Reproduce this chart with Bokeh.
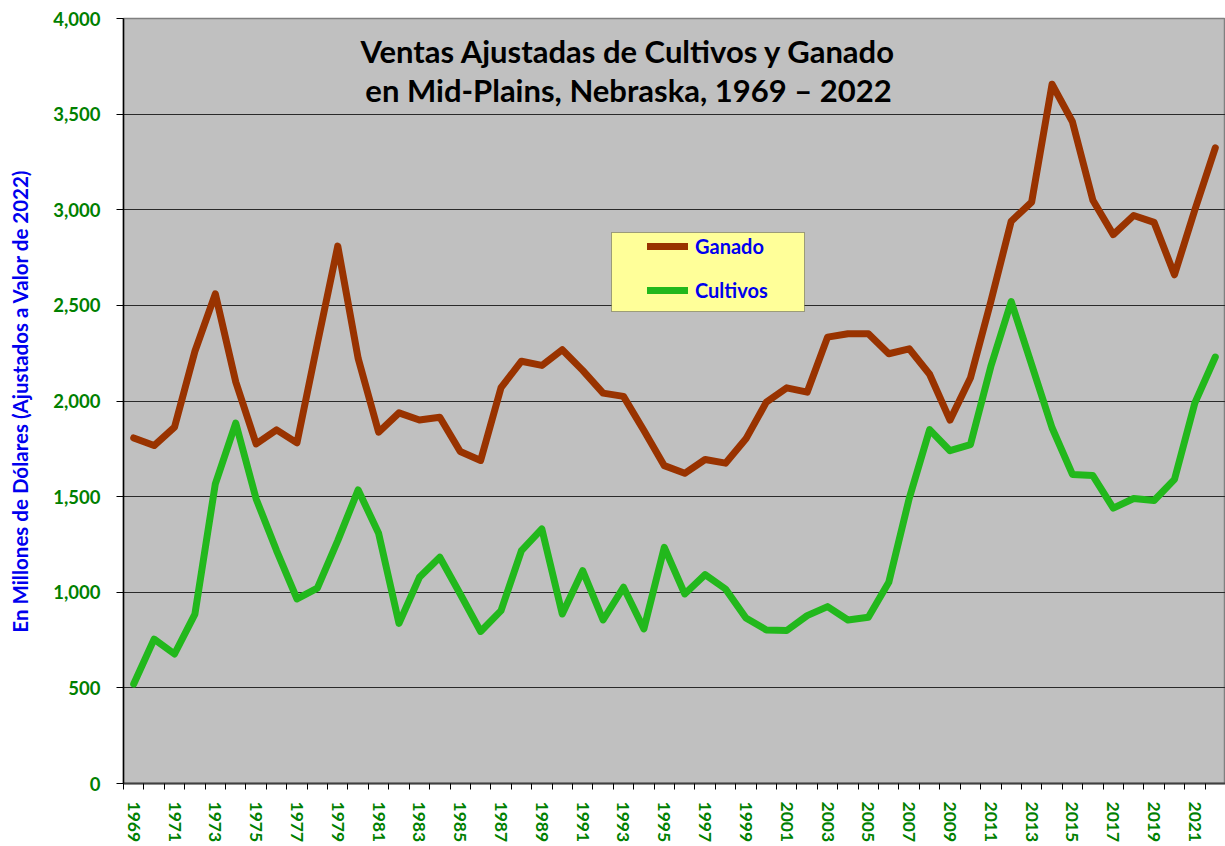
from bokeh.plotting import figure
from bokeh.models import (Legend, LegendItem, BoxAnnotation, Label, FixedTicker,
                          NumeralTickFormatter, Range1d)
from bokeh.embed import file_html
from bokeh.resources import INLINE

# ---- data ----
years = list(range(1969, 2023))
ganado = [1807, 1767, 1863, 2260, 2560, 2100, 1776, 1849, 1781, 2300,
          2810, 2222, 1837, 1938, 1901, 1915, 1736, 1689, 2070, 2208,
          2186, 2268, 2160, 2041, 2024, 1846, 1662, 1622, 1694, 1675,
          1802, 1994, 2069, 2046, 2334, 2352, 2352, 2247, 2273, 2140,
          1900, 2120, 2520, 2940, 3040, 3656, 3460, 3050, 2870, 2970,
          2934, 2660, 3000, 3324]
cultivos = [520, 755, 677, 886, 1567, 1884, 1488, 1218, 965, 1022,
            1270, 1535, 1308, 837, 1078, 1183, 991, 795, 904, 1218,
            1331, 886, 1113, 855, 1026, 808, 1235, 991, 1092, 1017,
            865, 803, 800, 878, 925, 855, 869, 1052, 1490, 1850,
            1740, 1772, 2180, 2520, 2190, 1860, 1616, 1610, 1440, 1490,
            1480, 1590, 1990, 2230]
x_tick_years = years[::2]
y_ticks = [0, 500, 1000, 1500, 2000, 2500, 3000, 3500, 4000]

title_lines = ["Ventas Ajustadas de Cultivos y Ganado",
               "en Mid-Plains, Nebraska, 1969 \u2013 2022"]
y_label = "En Millones de D\u00f3lares (Ajustados a Valor de 2022)"

FONT = "Lato"
GREEN_TXT = "#008000"
BLUE_TXT = "#0000EE"

p = figure(width=1225, height=846,
           x_range=Range1d(1968.5, 2022.5), y_range=Range1d(0, 4000),
           output_backend="svg", toolbar_location=None, title=None,
           min_border_left=123, min_border_right=0,
           min_border_top=18, min_border_bottom=63)

p.background_fill_color = "#C0C0C0"
p.border_fill_color = "white"
p.outline_line_color = "#808080"
p.outline_line_width = 1.5

r_g = p.line(years, ganado, line_color="#993300", line_width=7,
             line_join="round", line_cap="round")
r_c = p.line(years, cultivos, line_color="#22B81C", line_width=7,
             line_join="round", line_cap="round")

# axes
xa = p.xaxis[0]
xa.ticker = FixedTicker(ticks=x_tick_years,
                        minor_ticks=[y - 0.5 for y in years] + [years[-1] + 0.5])
xa.major_label_overrides = {y: str(y) for y in x_tick_years}
xa.major_label_orientation = "vertical"
xa.major_tick_out = 0
xa.major_tick_in = 0
xa.minor_tick_out = 6
xa.minor_tick_in = 0
xa.minor_tick_line_color = "black"
xa.major_label_standoff = 12
xa.major_label_text_font = FONT
xa.major_label_text_font_style = "bold"
xa.major_label_text_font_size = "17.5px"
xa.major_label_text_color = GREEN_TXT
xa.axis_line_color = "#404040"
xa.axis_line_width = 2

ya = p.yaxis[0]
ya.ticker = FixedTicker(ticks=y_ticks)
ya.formatter = NumeralTickFormatter(format="0,0")
ya.major_tick_out = 7
ya.major_tick_in = 0
ya.minor_tick_out = 0
ya.minor_tick_in = 0
ya.major_tick_line_color = "black"
ya.major_label_standoff = 16
ya.major_label_text_font = FONT
ya.major_label_text_font_style = "bold"
ya.major_label_text_font_size = "18.5px"
ya.major_label_text_color = GREEN_TXT
ya.axis_line_color = "black"
ya.axis_line_width = 1.5
ya.axis_label = y_label
ya.axis_label_text_font = FONT
ya.axis_label_text_font_style = "bold"
ya.axis_label_text_font_size = "20.5px"
ya.axis_label_text_color = BLUE_TXT
ya.axis_label_standoff = 18

p.xgrid.grid_line_color = None
p.ygrid.grid_line_color = "#2a2a2a"
p.ygrid.grid_line_width = 1

# title inside plot area
for i, t in enumerate(title_lines):
    p.add_layout(Label(x=505, y=733 - i * 39, x_units="screen", y_units="screen",
                       text=t, text_align="center", text_baseline="middle",
                       text_font=FONT, text_font_style="bold",
                       text_font_size="31px", text_color="black"))

# legend box
p.add_layout(BoxAnnotation(left=488, right=681, top=551, bottom=472,
                           left_units="screen", right_units="screen",
                           top_units="screen", bottom_units="screen",
                           fill_color="#FFFF99", fill_alpha=1,
                           line_color="black", line_width=1))
legend = Legend(items=[LegendItem(label="Ganado", renderers=[r_g]),
                       LegendItem(label="Cultivos", renderers=[r_c])],
                location=(515, 472), padding=9, margin=0, spacing=20,
                glyph_width=41, glyph_height=20, label_height=20,
                label_standoff=7,
                label_text_font=FONT, label_text_font_style="bold",
                label_text_font_size="20px", label_text_color=BLUE_TXT,
                background_fill_alpha=0, border_line_alpha=0)
p.add_layout(legend)

open("out.html", "w").write(file_html(p, INLINE))
